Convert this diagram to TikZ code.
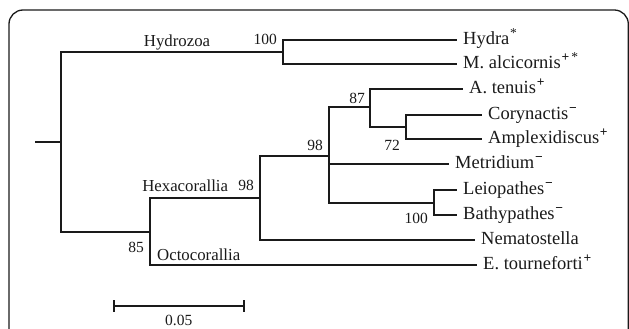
\documentclass[tikz,border=0pt]{standalone}
\usepackage{fontspec}
\setmainfont{Liberation Serif}
\definecolor{ink}{HTML}{1A1A1A}
\newcommand\leafsup[1]{\kern0.8pt\raisebox{7pt}{\fontsize{13.5}{13.5}\selectfont\bfseries #1}}
\begin{document}
\begin{tikzpicture}[x=1pt,y=-1pt,
  br/.style={line width=2pt,draw=ink},
  framebox/.style={line width=1.3pt,draw=ink,rounded corners=14pt},
  leaf/.style={anchor=west,inner xsep=6pt,inner ysep=0pt,font=\fontsize{18.5}{20}\selectfont,text height=13pt,text depth=4pt,text=ink},
  clade/.style={inner sep=0pt,font=\fontsize{16.8}{18}\selectfont,text=ink},
  bs/.style={inner sep=0pt,font=\fontsize{15.5}{17}\selectfont,text=ink}]
\useasboundingbox (0,0) rectangle (629,329);
\draw[framebox] (9,10) rectangle (628.3,370);
% internal nodes
\coordinate (stub) at (35,142);
\coordinate (R) at (61,142);
\coordinate (H) at (283,52);
\coordinate (O) at (150,232);
\coordinate (X) at (260,198);
\coordinate (A) at (329,156);
\coordinate (B) at (370,107);
\coordinate (C) at (406,127);
\coordinate (D) at (434,203);
% leaves
\node[leaf] (hydra) at (457,40) {Hydra\leafsup{\mdseries*}};
\node[leaf] (malc) at (457,64) {M. alcicornis\leafsup{+\kern2pt\mdseries*}};
\node[leaf] (aten) at (463,89) {A. tenuis\leafsup{+}};
\node[leaf] (cory) at (482,115) {Corynactis\leafsup{−}};
\node[leaf] (ampl) at (482,139) {Amplexidiscus\leafsup{+}};
\node[leaf] (metr) at (449,164) {Metridium\leafsup{−}};
\node[leaf] (leio) at (457,190) {Leiopathes\leafsup{−}};
\node[leaf] (bath) at (457,215) {Bathypathes\leafsup{−}};
\node[leaf] (nema) at (475,240) {Nematostella};
\node[leaf] (etou) at (477,265) {E. tourneforti\leafsup{+}};
% branches
\draw[br] (stub) -- (R);
\draw[br] (R) |- (H);
\draw[br] (R) |- (O);
\draw[br] (H) |- (hydra.west);
\draw[br] (H) |- (malc.west);
\draw[br] (O) |- (X);
\draw[br] (O) |- (etou.west);
\draw[br] (X) |- (A);
\draw[br] (X) |- (nema.west);
\draw[br] (A) |- (B);
\draw[br] (A) |- (metr.west);
\draw[br] (A) |- (D);
\draw[br] (B) |- (aten.west);
\draw[br] (B) |- (C);
\draw[br] (C) |- (cory.west);
\draw[br] (C) |- (ampl.west);
\draw[br] (D) |- (leio.west);
\draw[br] (D) |- (bath.west);
% labels
\node[clade,anchor=base] (hydrozoa) at (177,46.7) {Hydrozoa};
\node[bs,anchor=base east] (bsH) at (277,45) {100};
\node[clade,anchor=base east] (hexa) at (228.3,191.7) {Hexacorallia};
\node[bs,anchor=base east] (bsX) at (254,190.7) {98};
\node[bs,anchor=base east] (bsO) at (144,252.3) {85};
\node[clade,anchor=base west] (octo) at (157,260) {Octocorallia};
\node[bs,anchor=base east] (bsA) at (323,150) {98};
\node[bs,anchor=base east] (bsB) at (365,103.3) {87};
\node[bs,anchor=base east] (bsC) at (400,150) {72};
\node[bs,anchor=base east] (bsD) at (428,223.3) {100};
% scale bar
\coordinate (s1) at (114,306);
\coordinate (s2) at (244,306);
\draw[br] (s1) -- (s2);
\draw[br] (114,300) -- (114,312);
\draw[br] (244,300) -- (244,312);
\node[bs,anchor=base] (scl) at (178.7,325.7) {0.05};
\end{tikzpicture}
\end{document}
